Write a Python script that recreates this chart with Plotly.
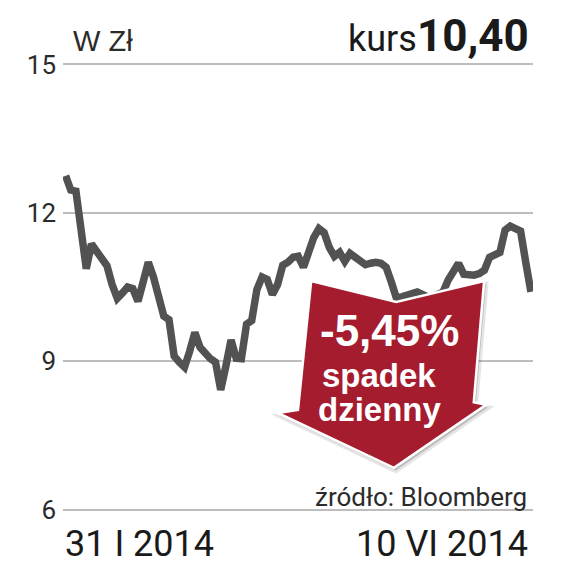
import plotly.graph_objects as go
import pandas as pd

# Colors
LINE_COLOR = '#525252'
GRID_COLOR = '#bdbdbd'
TEXT_COLOR = '#2b2b2b'
ARROW_RED = '#a61c2f'

# Data: daily closing price (PLN), 31 I 2014 - 10 VI 2014 (WSE trading days)
holidays = ['2014-04-21', '2014-05-01']
dates = pd.bdate_range('2014-01-31', '2014-06-10', freq='C', holidays=holidays)
day_labels = [d.strftime('%Y-%m-%d') for d in dates]

prices = [
    12.75, 12.46, 12.44, 11.65, 10.87, 11.37, 11.20, 11.05, 10.93, 10.55,
    10.27, 10.38, 10.50, 10.47, 10.21, 10.60, 11.00, 10.70, 10.30, 9.91,
    9.84, 9.10, 8.98, 8.88, 9.20, 9.58, 9.28, 9.15, 9.05, 8.98,
    8.42, 8.90, 9.43, 9.06, 9.05, 9.75, 9.82, 10.45, 10.70, 10.65,
    10.35, 10.55, 10.94, 11.00, 11.10, 11.12, 10.90, 11.20, 11.50, 11.68,
    11.60, 11.30, 11.12, 11.20, 11.02, 11.18, 11.10, 11.04, 10.95, 10.98,
    11.00, 10.98, 10.90, 10.60, 10.27, 10.30, 10.34, 10.38, 10.40, 10.35,
    10.30, 10.30, 10.35, 10.40, 10.64, 10.85, 10.98, 10.76, 10.74, 10.74,
    10.77, 10.84, 11.10, 11.17, 11.20, 11.65, 11.73, 11.68, 11.63, 11.00,
    10.40,
]

y_ticks = [6, 9, 12, 15]
y_tick_text = ['6', '9', '12', '15']

last_price = '10,40'
daily_change = '-5,45%'
first_label = '31 I 2014'
last_label = '10 VI 2014'

fig = go.Figure()

fig.add_trace(
    go.Scatter(
        x=day_labels,
        y=prices,
        mode='lines',
        line=dict(color=LINE_COLOR, width=7.5),
        hoverinfo='skip',
        showlegend=False
    )
)

# Down arrow badge (paper coordinates)
arrow = [(0.528, 0.513), (0.709, 0.467), (0.896, 0.513), (0.874, 0.244),
         (0.900, 0.238), (0.704, 0.098), (0.457, 0.220), (0.500, 0.227)]


def to_path(pts, dx=0.0, dy=0.0):
    p = 'M ' + ' L '.join(f'{x + dx:.4f},{y + dy:.4f}' for x, y in pts)
    return p + ' Z'


shapes = [
    # soft shadow
    dict(type='path', xref='paper', yref='paper', path=to_path(arrow, 0.004, -0.006),
         fillcolor='rgba(0,0,0,0.18)', line=dict(color='rgba(0,0,0,0.10)', width=5),
         layer='above'),
    dict(type='path', xref='paper', yref='paper', path=to_path(arrow),
         fillcolor=ARROW_RED, line=dict(color='white', width=2.5), layer='above'),
]

annotations = [
    dict(text='W Zł', x=0.017, y=1.047, xanchor='left', yanchor='middle',
         font=dict(family='Liberation Sans, Arial', size=29, color=TEXT_COLOR)),
    dict(text='kurs', x=0.757, y=1.050, xanchor='right', yanchor='middle',
         font=dict(family='Roboto', size=36, color='#1a1a1a')),
    dict(text=f'<b>{last_price}</b>', x=0.996, y=1.058, xanchor='right', yanchor='middle',
         font=dict(family='Roboto', size=44, color='#1a1a1a')),
    dict(text=f'<b>{daily_change}</b>', x=0.694, y=0.404, xanchor='center', yanchor='middle',
         font=dict(family='Liberation Sans, Arial', size=44, color='white')),
    dict(text='<b>spadek</b>', x=0.672, y=0.303, xanchor='center', yanchor='middle',
         font=dict(family='Liberation Sans, Arial', size=33, color='white')),
    dict(text='<b>dzienny</b>', x=0.674, y=0.227, xanchor='center', yanchor='middle',
         font=dict(family='Liberation Sans, Arial', size=33, color='white')),
    dict(text='źródło: Bloomberg', x=0.991, y=0.033, xanchor='right', yanchor='middle',
         font=dict(family='Roboto', size=26, color=TEXT_COLOR)),
    dict(text=first_label, x=0.0, y=-0.071, xanchor='left', yanchor='middle',
         font=dict(family='Roboto', size=36, color='#1a1a1a')),
    dict(text=last_label, x=0.994, y=-0.071, xanchor='right', yanchor='middle',
         font=dict(family='Roboto', size=36, color='#1a1a1a')),
]
for a in annotations:
    a.update(xref='paper', yref='paper', showarrow=False)

# the page is shown with an 8px body margin, so the margins are offset by it
fig.update_layout(
    width=566,
    height=566,
    margin=dict(l=55, r=41, t=54, b=62),
    paper_bgcolor='white',
    plot_bgcolor='white',
    shapes=shapes,
    annotations=annotations,
    showlegend=False
)

fig.update_xaxes(
    type='category',
    range=[-0.5, len(day_labels) - 0.6],
    showgrid=False,
    showticklabels=False,
    ticks='',
    zeroline=False,
    showline=False
)

fig.update_yaxes(
    range=[5.95, 15.05],
    tickvals=y_ticks,
    ticktext=y_tick_text,
    tickfont=dict(family='Roboto', size=26, color=TEXT_COLOR),
    ticks='',
    ticklabelstandoff=6,
    showgrid=True,
    gridcolor=GRID_COLOR,
    gridwidth=1.5,
    zeroline=False,
    showline=False
)

fig.write_html("out.html")
